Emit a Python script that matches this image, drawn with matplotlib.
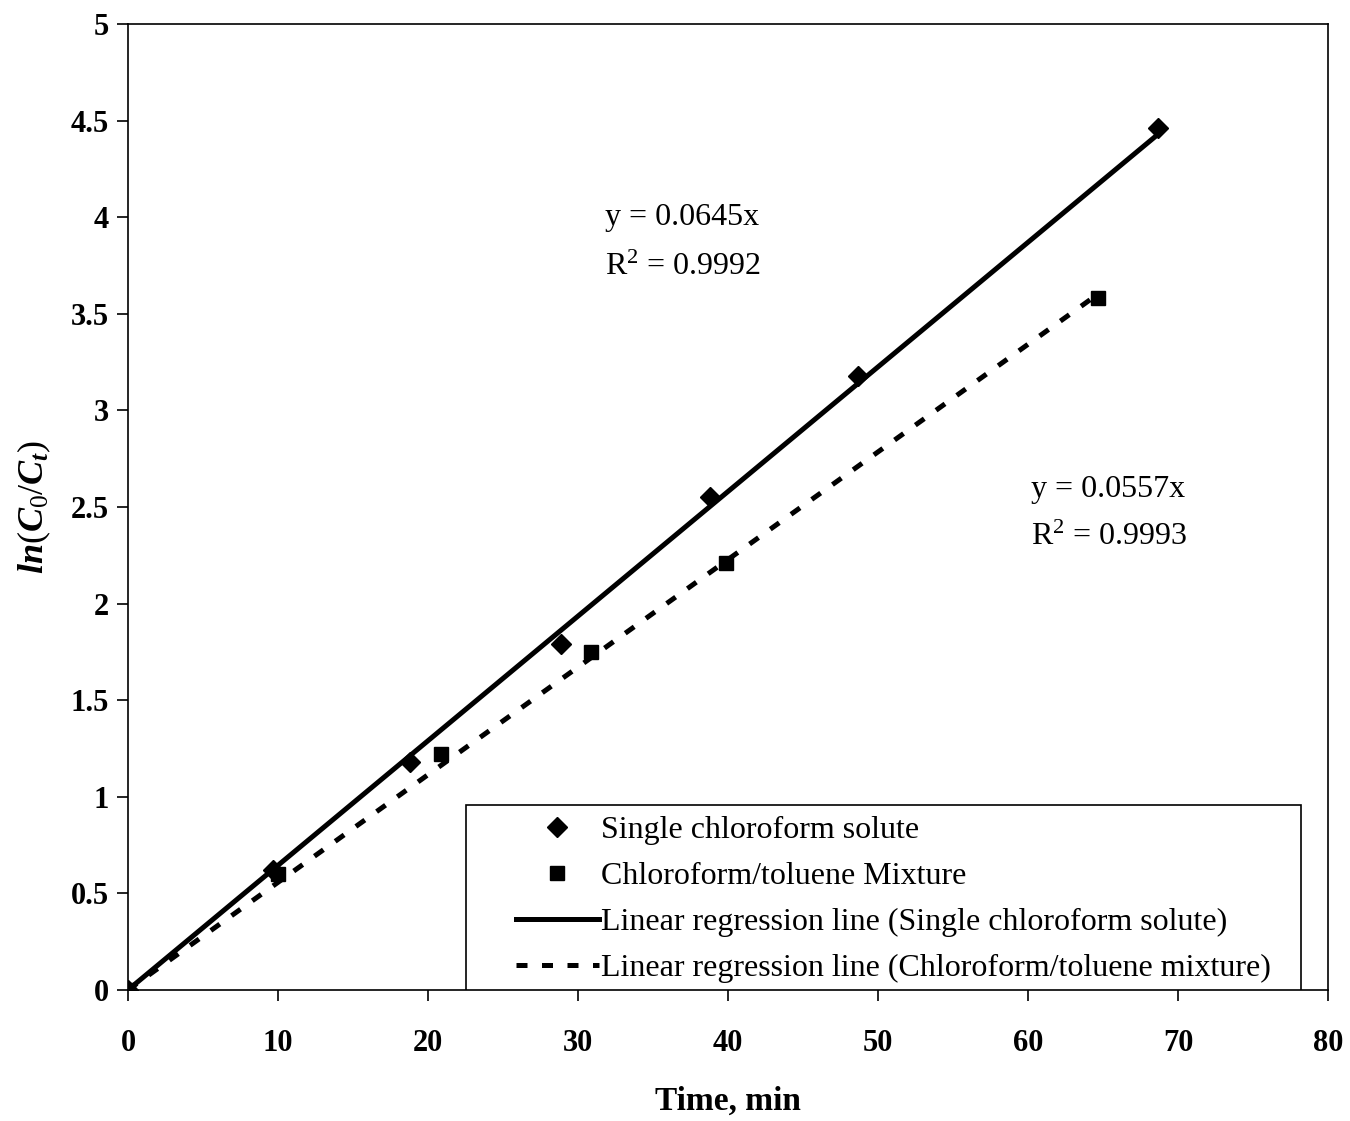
import matplotlib

matplotlib.use("Agg")
import matplotlib.pyplot as plt  # noqa: E402
import numpy as np  # noqa: E402
from matplotlib.patches import Rectangle  # noqa: E402

plt.rcParams["font.family"] = ["Liberation Serif", "DejaVu Serif"]
plt.rcParams["mathtext.fontset"] = "custom"
plt.rcParams["mathtext.rm"] = "Liberation Serif"
plt.rcParams["mathtext.it"] = "Liberation Serif:italic:bold"
plt.rcParams["mathtext.bf"] = "Liberation Serif:bold"

# single chloroform solute
single_time = [0, 9.7, 18.8, 28.9, 38.8, 48.7, 68.7]
single_ln = [0, 0.62, 1.18, 1.79, 2.55, 3.18, 4.46]

# chloroform / toluene mixture
mix_time = [0, 10.0, 20.9, 30.9, 39.9, 64.7]
mix_ln = [0, 0.60, 1.22, 1.75, 2.21, 3.58]

single_slope = 0.0645
mix_slope = 0.0557

x_ticks = [0, 10, 20, 30, 40, 50, 60, 70, 80]
y_ticks = [0, 0.5, 1, 1.5, 2, 2.5, 3, 3.5, 4, 4.5, 5]
y_tick_labels = ["0", "0.5", "1", "1.5", "2", "2.5", "3", "3.5", "4", "4.5", "5"]

fig = plt.figure(figsize=(13.5, 11.21), dpi=100)
ax = fig.add_axes([0.0948, 0.1169, 0.8889, 0.8617])

ax.plot(single_time, single_ln, linestyle="none", marker="D", markersize=10,
        color="black", label="Single chloroform solute", zorder=3)
ax.plot(mix_time, mix_ln, linestyle="none", marker="s", markersize=10,
        color="black", label="Chloroform/toluene Mixture", zorder=3)

fit_x1 = np.array([0, max(single_time)])
ax.plot(fit_x1, single_slope * fit_x1, color="black", linewidth=3.6,
        label="Linear regression line (Single chloroform solute)")
fit_x2 = np.array([0, max(mix_time)])
ax.plot(fit_x2, mix_slope * fit_x2, color="black", linewidth=3.6,
        linestyle=(0, (2.2, 2.9)),
        label="Linear regression line (Chloroform/toluene mixture)")

ax.text(31.8, 4.0, "y = 0.0645x", fontsize=23, va="center", ha="left")
ax.text(31.8, 3.74, "R$^2$ = 0.9992", fontsize=23, va="center", ha="left")
ax.text(60.2, 2.59, "y = 0.0557x", fontsize=23, va="center", ha="left")
ax.text(60.2, 2.34, "R$^2$ = 0.9993", fontsize=23, va="center", ha="left")

ax.set_xlim(0, 80)
ax.set_ylim(0, 5)
ax.set_xticks(x_ticks)
ax.set_yticks(y_ticks)
ax.set_yticklabels(y_tick_labels)
ax.tick_params(direction="out", length=8, width=1.2, labelsize=22)
ax.tick_params(axis="x", pad=20)
ax.tick_params(axis="y", pad=6)
for label in ax.get_xticklabels() + ax.get_yticklabels():
    label.set_fontweight("bold")
for spine in ax.spines.values():
    spine.set_linewidth(1.2)

ax.set_xlabel("Time, min", fontsize=24, fontweight="bold", labelpad=20)
ax.set_ylabel(r"$ln(C_0/C_t)$", fontsize=26, labelpad=12)

# legend frame drawn separately so the handles can sit with a wide left margin
ax.add_patch(Rectangle((0.2817, 0.0), 0.6958, 0.1915, transform=ax.transAxes,
                       facecolor="white", edgecolor="black", linewidth=1.2,
                       zorder=4))
leg = ax.legend(loc="center left", bbox_to_anchor=(0.3233, 0.094),
                fontsize=23, frameon=False, handlelength=2.6,
                handletextpad=0.05, borderaxespad=0, labelspacing=0.52,
                borderpad=0)
leg.set_zorder(5)

fig.savefig("out.png", dpi=100)
